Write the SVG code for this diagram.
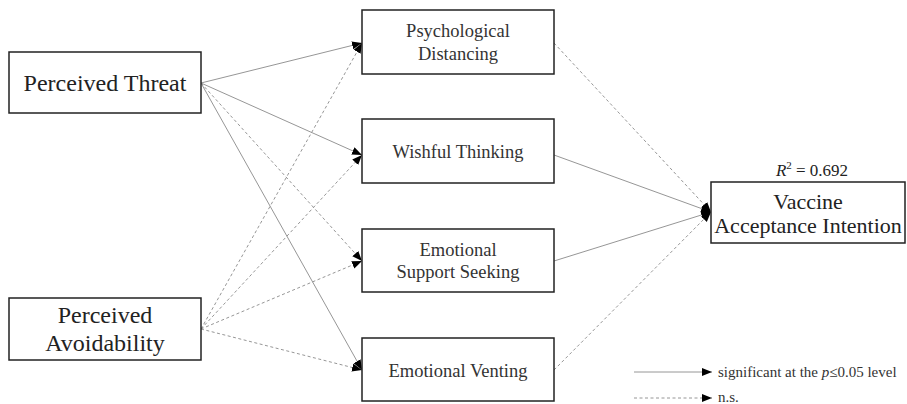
<svg xmlns="http://www.w3.org/2000/svg" width="907" height="404" viewBox="0 0 907 404">
<defs>
<marker id="ah" markerUnits="userSpaceOnUse" markerWidth="12" markerHeight="10" refX="10" refY="4" orient="auto">
<path d="M0,0 L10,4 L0,8 Z" fill="#000"/>
</marker>
<style>
.box{fill:#fff;stroke:#222;stroke-width:1.5}
.t{font-family:"Liberation Serif","Times New Roman",serif;fill:#222;text-anchor:middle}
.big{font-size:24px}
.mid{font-size:18.5px;fill:#333}
.out{font-size:22px}
.sig{fill:none;stroke:#8a8a8a;stroke-width:0.9}
.ns{fill:none;stroke:#8a8a8a;stroke-width:0.9;stroke-dasharray:3 2.5}
.leg{font-family:"Liberation Serif","Times New Roman",serif;fill:#333;font-size:15px}
</style>
</defs>
<rect width="907" height="404" fill="#fff"/>
<g id="connectors">
<line class="sig" x1="201" y1="83" x2="362" y2="43" marker-end="url(#ah)"/>
<line class="sig" x1="201" y1="83" x2="362" y2="155" marker-end="url(#ah)"/>
<line class="ns" x1="201" y1="83" x2="362" y2="261" marker-end="url(#ah)"/>
<line class="sig" x1="201" y1="83" x2="362" y2="370" marker-end="url(#ah)"/>
<line class="ns" x1="201" y1="329" x2="362" y2="43" marker-end="url(#ah)"/>
<line class="ns" x1="201" y1="329" x2="362" y2="155" marker-end="url(#ah)"/>
<line class="ns" x1="201" y1="329" x2="362" y2="261" marker-end="url(#ah)"/>
<line class="ns" x1="201" y1="329" x2="362" y2="370" marker-end="url(#ah)"/>
<line class="ns" x1="554" y1="43" x2="711" y2="212" marker-end="url(#ah)"/>
<line class="sig" x1="554" y1="155" x2="711" y2="212" marker-end="url(#ah)"/>
<line class="sig" x1="554" y1="261" x2="711" y2="212" marker-end="url(#ah)"/>
<line class="ns" x1="554" y1="370" x2="711" y2="212" marker-end="url(#ah)"/>
</g>
<g id="PT">
<rect class="box" x="9" y="52" width="192" height="61"/>
<text class="t big" x="105" y="91">Perceived Threat</text>
</g>
<g id="PA">
<rect class="box" x="9" y="298" width="192" height="62"/>
<text class="t big" x="105" y="323">Perceived</text>
<text class="t big" x="105" y="351">Avoidability</text>
</g>
<g id="PD">
<rect class="box" x="362" y="10" width="192" height="64"/>
<text class="t mid" x="458" y="37">Psychological</text>
<text class="t mid" x="458" y="60">Distancing</text>
</g>
<g id="WT">
<rect class="box" x="362" y="119" width="192" height="64"/>
<text class="t mid" x="458" y="158">Wishful Thinking</text>
</g>
<g id="ESS">
<rect class="box" x="362" y="229" width="192" height="63"/>
<text class="t mid" x="458" y="256">Emotional</text>
<text class="t mid" x="458" y="278">Support Seeking</text>
</g>
<g id="EV">
<rect class="box" x="362" y="338" width="192" height="63"/>
<text class="t mid" x="458" y="377">Emotional Venting</text>
</g>
<g id="VAI">
<rect class="box" x="711" y="182" width="194" height="61"/>
<text class="t out" x="808" y="209">Vaccine</text>
<text class="t out" x="808" y="233">Acceptance Intention</text>
<text class="t" x="812" y="176" font-size="17px"><tspan font-style="italic">R</tspan><tspan font-size="11px" dy="-7">2</tspan><tspan dy="7"> = 0.692</tspan></text>
</g>
<g id="legend">
<line class="sig" x1="634" y1="372" x2="712" y2="372" marker-end="url(#ah)"/>
<line class="ns" x1="634" y1="398" x2="712" y2="398" marker-end="url(#ah)"/>
<text class="leg" x="718" y="377">significant at the <tspan font-style="italic">p</tspan>≤0.05 level</text>
<text class="leg" x="718" y="402">n.s.</text>
</g>
</svg>
